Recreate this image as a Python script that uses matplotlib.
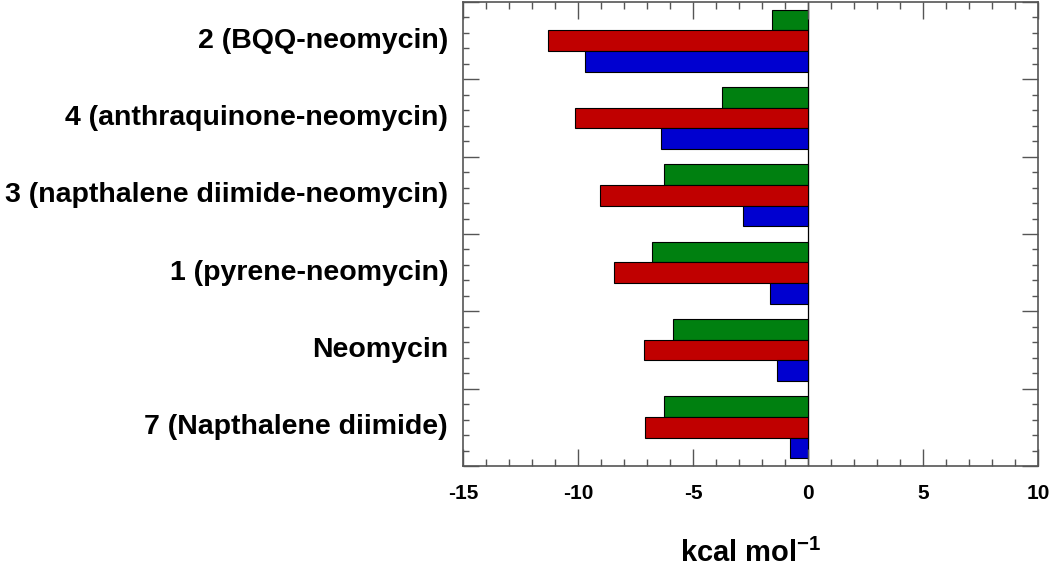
import matplotlib
matplotlib.use("Agg")
import matplotlib.pyplot as plt
import numpy as np
from matplotlib.ticker import MultipleLocator

categories = ["2 (BQQ-neomycin)", "4 (anthraquinone-neomycin)",
              "3 (napthalene diimide-neomycin)", "1 (pyrene-neomycin)",
              "Neomycin", "7 (Napthalene diimide)"]
green_vals = [-1.58, -3.76, -6.26, -6.77, -5.86, -6.27]
red_vals = [-11.30, -10.15, -9.05, -8.42, -7.15, -7.10]
blue_vals = [-9.70, -6.40, -2.81, -1.65, -1.33, -0.80]
xticks = [-15, -10, -5, 0, 5, 10]

plt.rcParams['font.family'] = ['Liberation Sans', 'DejaVu Sans']
plt.rcParams['axes.unicode_minus'] = False
plt.rcParams['mathtext.fontset'] = 'custom'
plt.rcParams['mathtext.rm'] = 'Liberation Sans:bold'
plt.rcParams['mathtext.bf'] = 'Liberation Sans:bold'
plt.rcParams['mathtext.default'] = 'bf'

fig = plt.figure(figsize=(10.5, 5.7), dpi=100)
ax = fig.add_axes([0.441, 0.1825, 0.5476, 0.814])

n = len(categories)
centers = np.arange(n) + 0.5
h = 0.267
ax.barh(centers - h, green_vals, height=h, color='#008010', edgecolor='black', linewidth=0.8)
ax.barh(centers, red_vals, height=h, color='#C00000', edgecolor='black', linewidth=0.8)
ax.barh(centers + h, blue_vals, height=h, color='#0000D0', edgecolor='black', linewidth=0.8)

ax.axvline(0, color='black', linewidth=0.9, zorder=0.5)

ax.set_xlim(-15, 10)
ax.set_ylim(n, 0)
ax.set_xticks(xticks)
ax.set_xticklabels([str(t) for t in xticks], fontsize=15, fontweight='bold')
ax.xaxis.set_minor_locator(MultipleLocator(1))

ax.set_yticks(np.arange(n + 1))
ax.set_yticklabels([])
ax.yaxis.set_minor_locator(MultipleLocator(0.2))
for c, lab in zip(centers, categories):
    ax.text(-0.026, c, lab, transform=ax.get_yaxis_transform(), ha='right', va='center',
            fontsize=20.5, fontweight='bold')

ax.tick_params(which='both', direction='in', top=True, right=True, color='#555555', width=1.0)
ax.tick_params(axis='x', which='major', length=12.5, pad=13)
ax.tick_params(axis='x', which='minor', length=4.7)
ax.tick_params(axis='y', which='major', length=11.5)
ax.tick_params(axis='y', which='minor', length=4.5)
for s in ax.spines.values():
    s.set_color('#555555')
    s.set_linewidth(1.2)

ax.set_xlabel('kcal mol$^{-1}$', fontsize=21, fontweight='bold', labelpad=26)

fig.savefig('out.png', dpi=100)
